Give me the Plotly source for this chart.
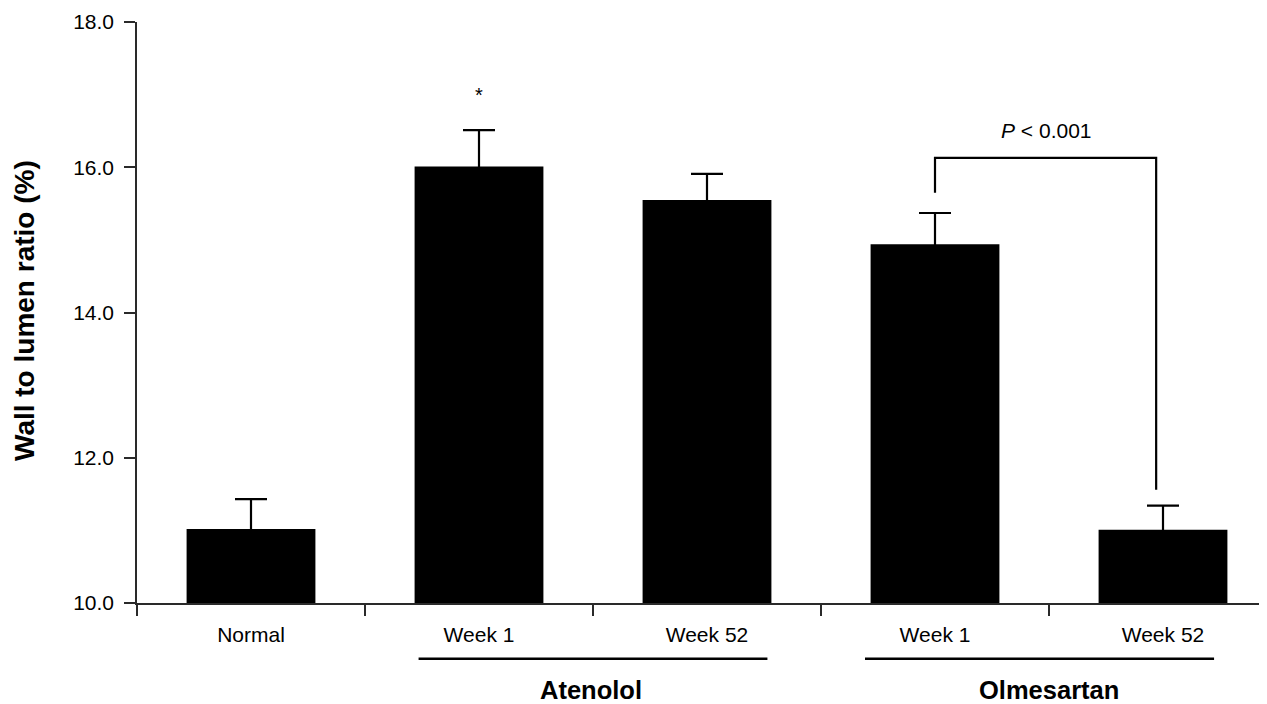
import plotly.graph_objects as go

categories = ["Normal", "Week 1", "Week 52", "Week 1", "Week 52"]
groups = ["Atenolol", "Olmesartan"]
means = [11.02, 16.01, 15.55, 14.94, 11.01]
sem = [0.41, 0.50, 0.36, 0.43, 0.33]
y_ticks = [10, 12, 14, 16, 18]

x_pos = list(range(len(categories)))
FONT = "Liberation Sans, Arial, sans-serif"
AX = "#2a2a2a"

# page body adds an 8px offset; figure is sized so the plot lands on the reference pixels
W, H = 1259, 696
ML, MT, MB, MR = 129, 14, 101, 0
PW = W - ML - MR
PH = H - MT - MB

fig = go.Figure()
fig.add_trace(go.Bar(
    x=x_pos, y=means, width=0.565,
    marker=dict(color="black", line=dict(width=0)),
    error_y=dict(type="data", array=sem, symmetric=True,
                 color="black", thickness=2.2, width=16),
    showlegend=False,
))

boundaries = [i - 0.5 for i in range(len(categories))]

fig.update_layout(
    width=W, height=H,
    margin=dict(l=ML, r=MR, t=MT, b=MB, pad=0),
    paper_bgcolor="white", plot_bgcolor="white",
    font=dict(family=FONT, color="black", size=21),
    xaxis=dict(
        range=[-0.5, -0.5 + PW / 228], tickmode="array",
        tickvals=x_pos, ticktext=categories,
        ticks="outside", ticklen=12, tickcolor="rgba(0,0,0,0)",
        showline=True, linecolor=AX, linewidth=1.5,
        showgrid=False, zeroline=False,
        tickfont=dict(size=21, family=FONT, color="black"),
        minor=dict(tickmode="array", tickvals=boundaries, ticks="outside",
                   ticklen=11, tickwidth=1.5, tickcolor=AX, showgrid=False),
    ),
    yaxis=dict(
        range=[10, 18], tickmode="array", tickvals=y_ticks,
        tickformat=".1f", ticks="outside", ticklen=11, tickwidth=1.5,
        tickcolor=AX, showline=True, linecolor=AX, linewidth=1.5,
        showgrid=False, zeroline=False, ticklabelstandoff=6,
        tickfont=dict(size=21, family=FONT, color="black"),
    ),
)

def py(pixel_y):
    return (MT + PH - (pixel_y - 8)) / PH

def px(pixel_x):
    return (pixel_x - 8 - ML) / PW

# y-axis title
fig.add_annotation(
    text="Wall to lumen ratio (%)", textangle=-90,
    xref="paper", yref="paper", x=px(24), y=py(311),
    xanchor="center", yanchor="middle", showarrow=False,
    font=dict(size=28, family=FONT, color="black", weight="bold"),
)

# group underlines and labels
group_lines = [(0.735, 2.265), (2.693, 4.224)]
group_centers = [1.49, 3.5]
for (x0, x1), xc, name in zip(group_lines, group_centers, groups):
    fig.add_shape(type="line", xref="x", yref="paper", x0=x0, x1=x1,
                  y0=py(658.7), y1=py(658.7), line=dict(color="black", width=2.5))
    fig.add_annotation(text=name, xref="x", yref="paper", x=xc, y=py(690),
                       xanchor="center", yanchor="middle", showarrow=False,
                       font=dict(size=25.5, family=FONT, color="black", weight="bold"))

# significance asterisk
fig.add_annotation(text="*", x=1, y=17.0, xref="x", yref="y", showarrow=False,
                   xanchor="center", yanchor="middle",
                   font=dict(size=20, family=FONT, color="black"))

# bracket for P value
fig.add_shape(type="path", xref="x", yref="y",
              path="M 3,15.65 L 3,16.13 L 3.97,16.13 L 3.97,11.56",
              line=dict(color="black", width=2.2))
fig.add_annotation(text="<i>P</i> &lt; 0.001", x=3.49, y=16.51, xref="x", yref="y",
                   showarrow=False, xanchor="center", yanchor="middle",
                   font=dict(size=21, family=FONT, color="black"))

fig.write_html("out.html")
